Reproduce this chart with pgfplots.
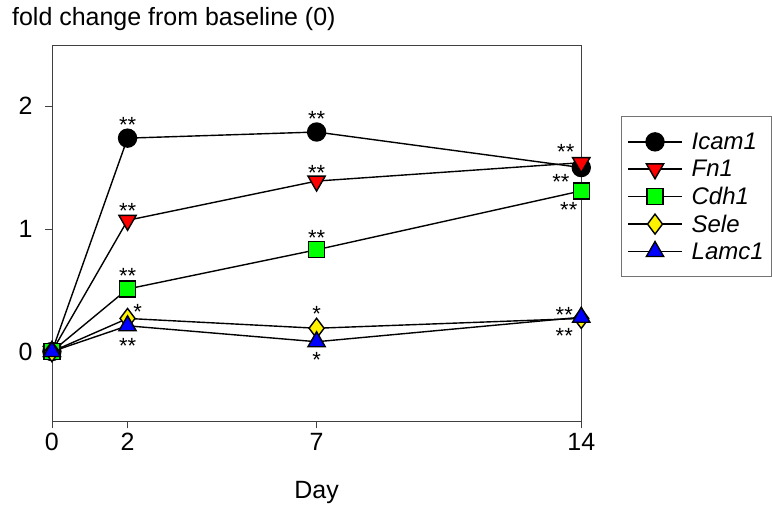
\documentclass[border=0pt]{standalone}
\usepackage{pgfplots}
\pgfplotsset{compat=1.18}
\usepackage{fontspec}
\setmainfont{Liberation Sans}
\begin{document}
\begin{tikzpicture}[ast/.style={font=\fontsize{22}{22}\selectfont, inner sep=0pt, anchor=base, yshift=-12.5pt}]
\begin{axis}[
  scale only axis,
  width=530pt, height=377pt,
  xmin=0, xmax=14, ymin=-0.57, ymax=2.5,
  xtick={0,2,7,14}, ytick={0,1,2},
  axis line style={black!75, line width=0.8pt},
  tick style={black!75, line width=0.8pt},
  tick align=outside, major tick length=7pt,
  xtick pos=bottom, ytick pos=left,
  /pgf/number format/assume math mode=true,
  ticklabel style={font=\fontsize{25}{30}\selectfont},
  xticklabel style={yshift=-1pt},
  yticklabel style={xshift=-9pt},
  xlabel={Day}, xlabel style={font=\fontsize{25}{30}\selectfont, yshift=-24pt},
  clip=false,
  every axis plot/.append style={black, line width=1.4pt, mark options={draw=black, line width=0.6pt, solid}},
  legend style={at={(rel axis cs:1.075,0.81)}, anchor=north west, draw=black!55, line width=0.8pt,
    font=\fontsize{24}{28}\selectfont\itshape, row sep=5pt, inner xsep=6pt, inner ysep=14pt},
  legend cell align=left,
  legend image code/.code={\draw[#1, mark repeat=2, mark phase=2] plot coordinates {(5pt,0pt) (32pt,0pt) (59pt,0pt)};},
]
\addplot[mark=*, mark size=9pt, mark options={fill=black}] coordinates {(0,0) (2,1.74) (7,1.79) (14,1.50)};
\addlegendentry{\hspace{7pt}Icam1}
\addplot[mark=triangle*, mark size=10pt, mark options={fill=red, rotate=180}] coordinates {(0,0) (2,1.07) (7,1.39) (14,1.54)};
\addlegendentry{\hspace{7pt}Fn1}
\addplot[mark=square*, mark size=8pt, mark options={fill=green}] coordinates {(0,0) (2,0.51) (7,0.83) (14,1.31)};
\addlegendentry{\hspace{7pt}Cdh1}
\addplot[mark=diamond*, mark size=10pt, mark options={fill=yellow}] coordinates {(0,0) (2,0.27) (7,0.19) (14,0.27)};
\addlegendentry{\hspace{7pt}Sele}
\addplot[mark=triangle*, mark size=10pt, mark options={fill=blue}] coordinates {(0,0) (2,0.21) (7,0.08) (14,0.28)};
\addlegendentry{\hspace{7pt}Lamc1}
\node[ast] at (axis cs:2,1.89) {**};
\node[ast] at (axis cs:7,1.94) {**};
\node[ast] at (axis cs:13.46,1.42) {**};
\node[ast] at (axis cs:13.59,1.67) {**};
\node[ast] at (axis cs:2,1.19) {**};
\node[ast] at (axis cs:7,1.50) {**};
\node[ast] at (axis cs:2,0.66) {**};
\node[ast] at (axis cs:7,0.97) {**};
\node[ast] at (axis cs:13.67,1.195) {**};
\node[ast] at (axis cs:2.27,0.36) {*};
\node[ast] at (axis cs:7,0.35) {*};
\node[ast] at (axis cs:2,0.09) {**};
\node[ast] at (axis cs:7,-0.03) {*};
\node[ast] at (axis cs:13.55,0.34) {**};
\node[ast] at (axis cs:13.55,0.17) {**};
\node[anchor=west, inner sep=0pt, font=\fontsize{25}{30}\selectfont] at (rel axis cs:-0.0755,1.069) {fold change from baseline (0)};
\end{axis}
\path (-52pt,-86pt) rectangle (720pt,422pt);
\end{tikzpicture}
\end{document}
